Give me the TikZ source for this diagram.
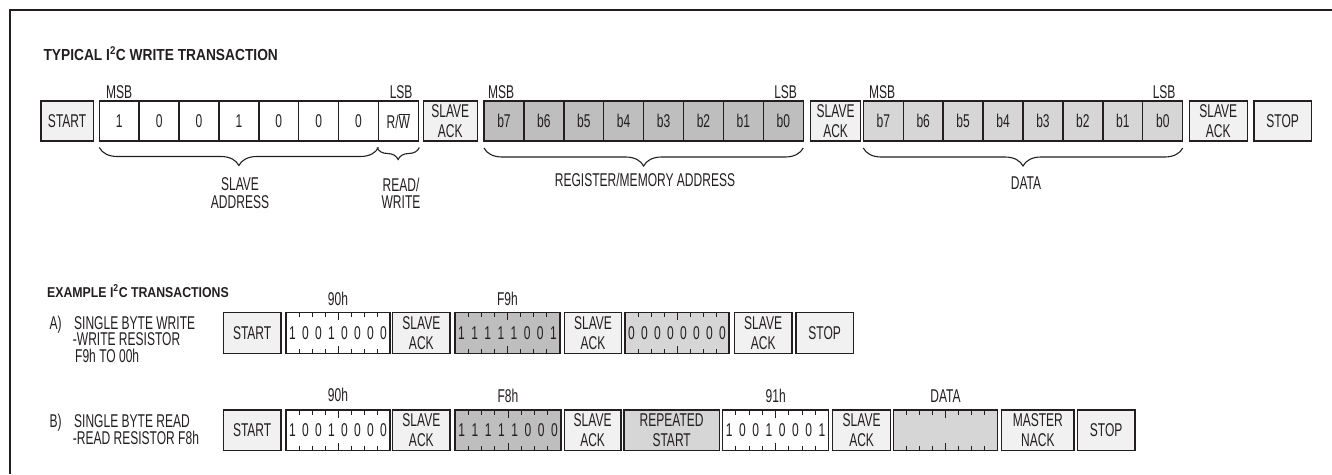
\documentclass[tikz,border=0pt]{standalone}
\usepackage{fontspec}
\setmainfont{Liberation Sans}[FakeStretch=0.65]
\newfontfamily\ttlfont{Liberation Sans}[FakeStretch=0.86]
\usetikzlibrary{decorations.pathreplacing,calc}
\definecolor{ink}{HTML}{231F20}
\definecolor{ctrlfill}{HTML}{F1F1F1}
\definecolor{regfill}{HTML}{BEBEBE}
\definecolor{datfill}{HTML}{D6D6D6}
\tikzset{
  txt/.style={font=\fontsize{18.5}{17.6}\selectfont, text=ink, inner sep=0pt},
  box/.style={draw=ink, line width=1.4pt, outer sep=0pt, inner sep=0pt, align=center,
              text=ink, font=\fontsize{18.5}{20}\selectfont},
  ctrl/.style={box, fill=ctrlfill},
  wbyte/.style={box, fill=white},
  rbyte/.style={box, fill=regfill},
  dbyte/.style={box, fill=datfill},
  dig/.style={txt},
  tk/.style={draw=ink, line width=1pt},
  brc/.style={draw=ink, line width=1.1pt, decorate,
              decoration={brace, mirror, amplitude=#1}},
  ttl/.style={font=\ttlfont\bfseries\fontsize{16}{18}\selectfont, text=ink, inner sep=0pt, anchor=base west},
  frame/.style={draw=ink, line width=2pt}
}
\newcommand\bx[7]{\node[#6, minimum width={(#3)-(#2)}, minimum height={(#5)-(#4)}] (#1) at ({((#2)+(#3))/2},{((#4)+(#5))/2}) {#7};}
\newcommand\byteticks[1]{%
  \foreach \i in {1,...,7}{%
    \pgfmathsetmacro\tl{ifthenelse(\i==4,8,4.5)}%
    \draw[tk] ($(#1.north west)!{\i/8}!(#1.north east)$) -- ++(0,\tl);
    \draw[tk] ($(#1.south west)!{\i/8}!(#1.south east)$) -- ++(0,-\tl);
  }}
\newcommand\bytedigits[2]{%
  \foreach \d [count=\k] in {#2}{%
    \node[dig] at ($(#1.west)!{(\k-0.5)/8}!(#1.east)$) {\d};
  }}
\begin{document}
\begin{tikzpicture}[x=1pt,y=-1pt]
\useasboundingbox (0,0) rectangle (1332,474);
\draw[frame] (10,474) -- (10,10) -- (1332,10);

% ---------- typical write transaction ----------
\node[ttl] (t1) at (43.3,60.7) {TYPICAL I\textsuperscript{2}C WRITE TRANSACTION};

\bx{start}{41}{93.3}{101}{141}{ctrl}{START}
\foreach \t [count=\k] in {1,0,0,1,0,0,0,{R/$\overline{\mbox{W}}$}}{
  \pgfmathsetmacro\xa{99.3+(\k-1)*39.875}
  \node[wbyte, minimum width=39.875, minimum height=40] (s\k) at (\xa+19.94,121) {\t};
}
\bx{ack1}{423.3}{477.3}{101}{141}{ctrl}{SLAVE\\ACK}
\foreach \t [count=\k] in {b7,b6,b5,b4,b3,b2,b1,b0}{
  \pgfmathsetmacro\xa{484+(\k-1)*39.9}
  \node[rbyte, minimum width=39.9, minimum height=40] (r\k) at (\xa+19.95,121) {\t};
}
\bx{ack2}{810.7}{860.5}{101}{141}{ctrl}{SLAVE\\ACK}
\foreach \t [count=\k] in {b7,b6,b5,b4,b3,b2,b1,b0}{
  \pgfmathsetmacro\xa{863.3+(\k-1)*39.925}
  \node[dbyte, minimum width=39.925, minimum height=40] (d\k) at (\xa+19.96,121) {\t};
}
\bx{ack3}{1189.3}{1247.3}{101}{141}{ctrl}{SLAVE\\ACK}
\bx{stop}{1254}{1311.3}{101}{141}{ctrl}{STOP}

\node[txt, anchor=base west] (m1) at ([xshift=6.7pt,yshift=3pt]s1.north west) {MSB};
\node[txt, anchor=base east] (l1) at ([xshift=-5.6pt,yshift=3pt]s8.north east) {LSB};
\node[txt, anchor=base west] (m2) at ([xshift=4pt,yshift=3pt]r1.north west) {MSB};
\node[txt, anchor=base east] (l2) at ([xshift=-6pt,yshift=3pt]r8.north east) {LSB};
\node[txt, anchor=base west] (m3) at ([xshift=5.7pt,yshift=3pt]d1.north west) {MSB};
\node[txt, anchor=base east] (l3) at ([xshift=-7pt,yshift=3pt]d8.north east) {LSB};

\draw[brc=18pt] ([yshift=-6.5pt]s1.south west) -- ([yshift=-6.5pt]s7.south east);
\draw[brc=12pt] ([xshift=-1.5pt,yshift=-6.5pt]s8.south west) -- ([xshift=1pt,yshift=-6.5pt]s8.south east);
\draw[brc=18pt] ([yshift=-7pt]r1.south west) -- ([yshift=-7pt]r8.south east);
\draw[brc=18pt] ([yshift=-7pt]d1.south west) -- ([yshift=-7pt]d8.south east);

\node[txt, align=center, anchor=north] (la1) at (240,177.7) {SLAVE\\ADDRESS};
\node[txt, align=center, anchor=north] (la2) at (401,177.7) {READ/\\WRITE};
\node[txt, anchor=base] (la3) at (645,186.7) {REGISTER/MEMORY ADDRESS};
\node[txt, anchor=base] (la4) at (1026,189.3) {DATA};

% ---------- examples ----------
\node[ttl, font=\ttlfont\bfseries\fontsize{14.3}{16}\selectfont] (t2) at (47,297) {EXAMPLE I\textsuperscript{2}C TRANSACTIONS};

\node[txt, anchor=base west] (a0) at (49.3,329) {A)};
\node[txt, anchor=base west] (a1) at (74,329) {SINGLE BYTE WRITE};
\node[txt, anchor=base west] (a2) at (72.7,345.7) {-WRITE RESISTOR};
\node[txt, anchor=base west] (a3) at (75,362.3) {F9h TO 00h};

\bx{aS}{223.3}{281}{312.3}{353.5}{ctrl}{START}
\bx{aB1}{286}{390}{312.3}{353.5}{wbyte}{}
\bx{aK1}{392.7}{450}{312.3}{353.5}{ctrl}{SLAVE\\ACK}
\bx{aB2}{455}{560}{312.3}{353.5}{rbyte}{}
\bx{aK2}{564.3}{621.7}{312.3}{353.5}{ctrl}{SLAVE\\ACK}
\bx{aB3}{625}{729}{312.3}{353.5}{dbyte}{}
\bx{aK3}{734.3}{792}{312.3}{353.5}{ctrl}{SLAVE\\ACK}
\bx{aP}{796}{853.3}{312.3}{353.5}{ctrl}{STOP}
\byteticks{aB1}\byteticks{aB2}\byteticks{aB3}
\bytedigits{aB1}{1,0,0,1,0,0,0,0}
\bytedigits{aB2}{1,1,1,1,1,0,0,1}
\bytedigits{aB3}{0,0,0,0,0,0,0,0}
\node[txt, anchor=base] at ([yshift=6.6pt]aB1.north) {90h};
\node[txt, anchor=base] at ([yshift=6.6pt]aB2.north) {F9h};

\node[txt, anchor=base west] (b0) at (49.3,427.3) {B)};
\node[txt, anchor=base west] (b1) at (74,427.3) {SINGLE BYTE READ};
\node[txt, anchor=base west] (b2) at (72.7,444) {-READ RESISTOR F8h};

\bx{bS}{223.3}{281}{410}{450.7}{ctrl}{START}
\bx{bB1}{286}{390}{410}{450.7}{wbyte}{}
\bx{bK1}{392.7}{450}{410}{450.7}{ctrl}{SLAVE\\ACK}
\bx{bB2}{455}{561}{410}{450.7}{rbyte}{}
\bx{bK2}{564.3}{621}{410}{450.7}{ctrl}{SLAVE\\ACK}
\bx{bR}{624}{719.3}{410}{450.7}{dbyte}{REPEATED\\START}
\bx{bB3}{722.7}{828.7}{410}{450.7}{wbyte}{}
\bx{bK3}{832.5}{890.7}{410}{450.7}{ctrl}{SLAVE\\ACK}
\bx{bB4}{893.3}{997.7}{410}{450.7}{dbyte}{}
\bx{bN}{1001.7}{1074}{410}{450.7}{ctrl}{MASTER\\NACK}
\bx{bP}{1077.3}{1135}{410}{450.7}{ctrl}{STOP}
\byteticks{bB1}\byteticks{bB2}\byteticks{bB3}\byteticks{bB4}
\bytedigits{bB1}{1,0,0,1,0,0,0,0}
\bytedigits{bB2}{1,1,1,1,1,0,0,0}
\bytedigits{bB3}{1,0,0,1,0,0,0,1}
\node[txt, anchor=base] at ([yshift=8.5pt]bB1.north) {90h};
\node[txt, anchor=base] at ([yshift=8pt]bB2.north) {F8h};
\node[txt, anchor=base] at ([yshift=8pt]bB3.north) {91h};
\node[txt, anchor=base] at ([yshift=8pt]bB4.north) {DATA};
\end{tikzpicture}
\end{document}
